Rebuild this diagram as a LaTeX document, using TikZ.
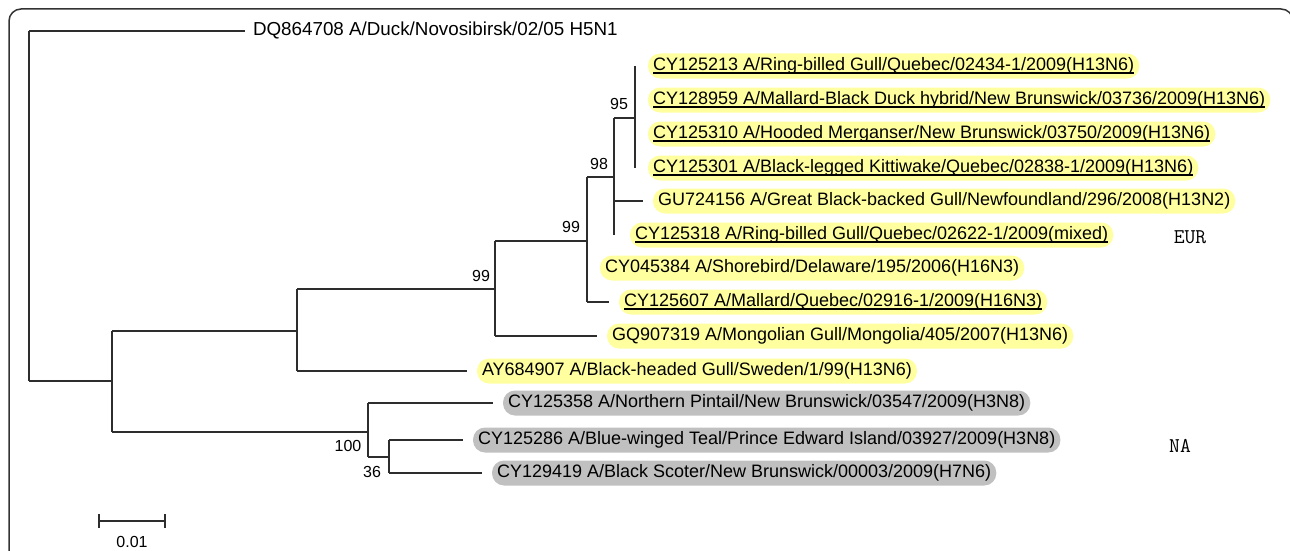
\documentclass[tikz,border=0pt]{standalone}
\usepackage{fontspec}
\setmainfont{Liberation Sans}
\definecolor{hly}{RGB}{255,255,160}
\definecolor{hlg}{RGB}{192,192,192}
\definecolor{ln}{RGB}{45,45,45}
\newcommand\ulin[1]{\setbox0\hbox{#1}\rlap{\rule[-3pt]{\wd0}{1.2pt}}\box0}
\begin{document}
\begin{tikzpicture}[x=1pt,y=-1pt,
  br/.style={line width=1.3pt, draw=ln},
  tx/.style={anchor=west, font=\fontsize{18}{20}\selectfont, inner xsep=5pt, inner ysep=0pt,
     minimum height=25pt, rounded corners=12pt, outer xsep=10pt, text height=13pt, text depth=4pt},
  eu/.style={tx, fill=hly},
  nam/.style={tx, fill=hlg},
  bs/.style={font=\fontsize{16}{18}\selectfont, inner sep=1pt},
  reg/.style={font=\ttfamily\fontsize{21}{23}\selectfont, inner sep=0pt}]
\useasboundingbox (0,0) rectangle (1290,551);
% frame
\draw[line width=1.5pt, draw=black!80, rounded corners=12pt] (9,600) -- (9,9) -- (1293,9) -- (1293,600);

% labels
\node[tx, outer xsep=4pt, inner xsep=4pt, font=\fontsize{18.8}{20}\selectfont] (t0) at (245,31) {DQ864708 A/Duck/Novosibirsk/02/05 H5N1};
\node[eu] (t1) at (638,66) {\ulin{CY125213 A/Ring-billed Gull/Quebec/02434-1/2009(H13N6)}};
\node[eu] (t2) at (638,100) {\ulin{CY128959 A/Mallard-Black Duck hybrid/New Brunswick/03736/2009(H13N6)}};
\node[eu] (t3) at (638,134) {\ulin{CY125310 A/Hooded Merganser/New Brunswick/03750/2009(H13N6)}};
\node[eu] (t4) at (638,168) {\ulin{CY125301 A/Black-legged Kittiwake/Quebec/02838-1/2009(H13N6)}};
\node[eu] (t5) at (643,201) {GU724156 A/Great Black-backed Gull/Newfoundland/296/2008(H13N2)};
\node[eu] (t6) at (620,235) {\ulin{CY125318 A/Ring-billed Gull/Quebec/02622-1/2009(mixed)}};
\node[eu] (t7) at (590,268) {CY045384 A/Shorebird/Delaware/195/2006(H16N3)};
\node[eu] (t8) at (609,302) {\ulin{CY125607 A/Mallard/Quebec/02916-1/2009(H16N3)}};
\node[eu] (t9) at (597,336) {GQ907319 A/Mongolian Gull/Mongolia/405/2007(H13N6)};
\node[eu] (t10) at (467,371) {AY684907 A/Black-headed Gull/Sweden/1/99(H13N6)};
\node[nam] (t11) at (493,403) {CY125358 A/Northern Pintail/New Brunswick/03547/2009(H3N8)};
\node[nam] (t12) at (463,440) {CY125286 A/Blue-winged Teal/Prince Edward Island/03927/2009(H3N8)};
\node[nam] (t13) at (482,473) {CY129419 A/Black Scoter/New Brunswick/00003/2009(H7N6)};

\node[reg] (eur) at (1190,237) {EUR};
\node[reg] (na) at (1180,446) {NA};

% internal nodes
\coordinate (nA) at (635,118);
\coordinate (nB) at (614,177);
\coordinate (nC) at (587,241);
\coordinate (nD) at (495,289);
\coordinate (nE) at (297,331);
\coordinate (nF) at (112,381);
\coordinate (nR) at (29,200);
\coordinate (nG) at (368,432);
\coordinate (nH) at (389,457);

% verticals
\draw[br] (nA |- t1) -- (nA |- t4);
\draw[br] (nB |- nA) -- (nB |- t6);
\draw[br] (nC |- nB) -- (nC |- t8);
\draw[br] (nD |- nC) -- (nD |- t9);
\draw[br] (nE |- nD) -- (nE |- t10);
\draw[br] (nF |- nE) -- (nF |- nG);
\draw[br] (nR |- t0) -- (nR |- nF);
\draw[br] (nG |- t11) -- (nG |- nH);
\draw[br] (nH |- t12) -- (nH |- t13);

% horizontals
\draw[br] (nR |- t0) -- (t0.west);
\draw[br] (nR |- nF) -- (nF);
\draw[br] (nF |- nE) -- (nE);
\draw[br] (nF |- nG) -- (nG);
\draw[br] (nE |- nD) -- (nD);
\draw[br] (nE |- t10) -- (t10.west);
\draw[br] (nD |- nC) -- (nC);
\draw[br] (nD |- t9) -- (t9.west);
\draw[br] (nC |- nB) -- (nB);
\draw[br] (nC |- t8) -- (t8.west);
\draw[br] (nB |- nA) -- (nA);
\draw[br] (nB |- t5) -- (t5.west);
\draw[br] (nG |- t11) -- (t11.west);
\draw[br] (nG |- nH) -- (nH);
\draw[br] (nH |- t12) -- (t12.west);
\draw[br] (nH |- t13) -- (t13.west);

% bootstrap values
\node[bs] (b1) at (619,104) {95};
\node[bs] (b2) at (599,164) {98};
\node[bs] (b3) at (571,227) {99};
\node[bs] (b4) at (481,276) {99};
\node[bs] (b5) at (348,446) {100};
\node[bs] (b6) at (372,472) {36};

% scale bar
\coordinate (s1) at (99,521);
\coordinate (s2) at (165,521);
\draw[br] (s1) -- (s2);
\draw[br] ([yshift=-7pt]s1) -- ([yshift=7pt]s1);
\draw[br] ([yshift=-7pt]s2) -- ([yshift=7pt]s2);
\node[bs] (sl) at (132,542) {0.01};
\end{tikzpicture}
\end{document}
